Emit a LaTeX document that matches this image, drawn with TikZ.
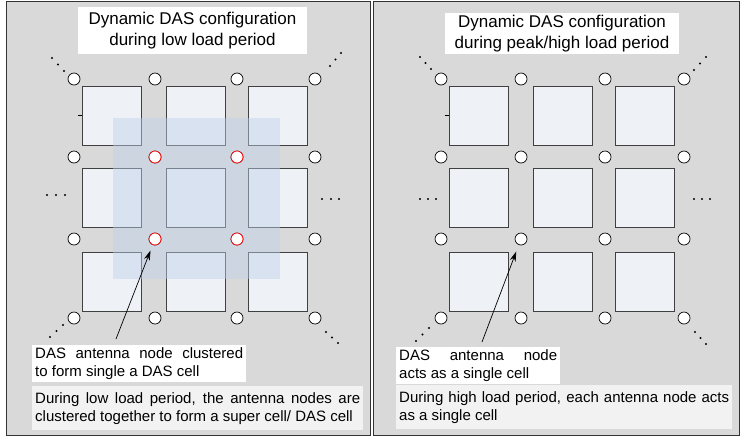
\documentclass[tikz,border=0pt]{standalone}
\usepackage{fontspec}
\setmainfont{Liberation Sans}
\usetikzlibrary{arrows.meta}

\definecolor{panelgray}{RGB}{217,217,217}
\definecolor{cellfill}{RGB}{238,241,246}
\definecolor{clusterblue}{RGB}{192,209,233}
\definecolor{notefill}{RGB}{242,242,242}

\tikzset{
  panel/.style={draw=black!80, fill=panelgray, line width=0.9pt},
  cellbox/.style={draw=black!75, fill=cellfill, line width=0.9pt, minimum size=59pt, inner sep=0pt},
  antenna/.style={circle, draw=black, fill=white, line width=0.7pt, minimum size=12pt, inner sep=0pt},
  clustered/.style={antenna, draw=red},
  dot/.style={circle, fill=black, minimum size=2.4pt, inner sep=0pt},
  titlebox/.style={fill=white, align=center, inner sep=0pt, font=\fontsize{17}{21}\selectfont},
  notebox/.style={align=justify, inner xsep=3pt, inner ysep=2.5pt, anchor=north west, font=\fontsize{15}{18}\selectfont},
  summarybox/.style={notebox, fill=notefill, inner ysep=6pt},
  pointer/.style={-{Stealth[length=10pt,width=6pt]}, line width=0.7pt},
  clusterarea/.style={fill=clusterblue, fill opacity=0.45},
}

\begin{document}
\begin{tikzpicture}[x=1pt, y=-1pt]
  \useasboundingbox (0,0) rectangle (743,437);

  % the two panels
  \draw[panel] (6,1) rectangle (370,435);
  \draw[panel] (373,1) rectangle (739,435);

  % titles
  \node[titlebox, minimum width=229pt, minimum height=47pt] (tl) at (192.5,30.5)
    {Dynamic DAS configuration\\during low load period};
  \node[titlebox, minimum width=234pt, minimum height=41pt] (tr) at (562,33.5)
    {Dynamic DAS configuration\\during peak/high load period};

  % cells
  \foreach \c/\x in {1/112,2/195.5,3/278} {
    \foreach \r/\y in {1/115.5,2/197.5,3/281.5} {
      \node[cellbox] (lc\r\c) at (\x,\y) {};
    }
  }
  \foreach \c/\x in {1/479,2/562.5,3/645} {
    \foreach \r/\y in {1/115.5,2/197.5,3/281.5} {
      \node[cellbox] (rc\r\c) at (\x,\y) {};
    }
  }
  \draw[line width=0.7pt] (78,115) -- (82,115);
  \draw[line width=0.7pt] (445,115) -- (449,115);

  % cluster area forming the DAS cell
  \path[clusterarea] (113,118) rectangle (280,279);

  % antenna nodes, left panel
  \foreach \c/\x in {1/74,2/155,3/237,4/315} {
    \foreach \r/\y in {1/79,2/157,3/239,4/318} {
      \node[antenna] (la\r\c) at (\x,\y) {};
    }
  }
  \node[clustered] (la22) at (155,157) {};
  \node[clustered] (la23) at (237,157) {};
  \node[clustered] (la32) at (155,239) {};
  \node[clustered] (la33) at (237,239) {};

  % antenna nodes, right panel
  \foreach \c/\x in {1/441,2/521,3/605,4/684} {
    \foreach \r/\y in {1/79,2/157,3/239,4/318} {
      \node[antenna] (ra\r\c) at (\x,\y) {};
    }
  }

  % continuation dots, left panel
  \foreach \i/\p in {1/{(52,58)},2/{(58,64.5)},3/{(64,71)},
                     4/{(330,66)},5/{(335.5,59.5)},6/{(341,53)},
                     7/{(47,195)},8/{(56,195)},9/{(65,195)},
                     10/{(322,199)},11/{(331,199)},12/{(339,199)},
                     13/{(50,337)},14/{(56.5,331)},15/{(63,325)},
                     16/{(326,332)},17/{(332,337.5)},18/{(338,343)}} {
    \node[dot] (ld\i) at \p {};
  }
  % continuation dots, right panel
  \foreach \i/\p in {1/{(420,57)},2/{(425.5,63)},3/{(431,69)},
                     4/{(694,70)},5/{(700,63.5)},6/{(706,57)},
                     7/{(420,199)},8/{(428,199)},9/{(436,199)},
                     10/{(694,199)},11/{(702,199)},12/{(710,199)},
                     13/{(416,341)},14/{(422.5,334.5)},15/{(429,328)},
                     16/{(695,332)},17/{(700.5,338)},18/{(706,344)}} {
    \node[dot] (rd\i) at \p {};
  }

  % annotations, left panel
  \node[notebox, fill=white, text width=208pt] (ln) at (32,345)
    {DAS antenna node clustered\linebreak to form single a DAS cell};
  \node[summarybox, text width=325pt] (lb) at (32,386)
    {During low load period, the antenna nodes are\linebreak clustered together to form a super cell/ DAS cell};

  % annotations, right panel
  \node[notebox, fill=white, text width=158pt] (rn) at (396,347)
    {DAS antenna node\linebreak acts as a single cell};
  \node[summarybox, text width=330pt] (rb) at (396,385)
    {During high load period, each antenna node acts\linebreak as a single cell};

  % pointers
  \coordinate (lt) at (116,339);
  \coordinate (rt) at (482,342);
  \draw[pointer, shorten >=6pt] (lt) -- (la32);
  \draw[pointer, shorten >=7pt] (rt) -- (ra32);
\end{tikzpicture}
\end{document}
